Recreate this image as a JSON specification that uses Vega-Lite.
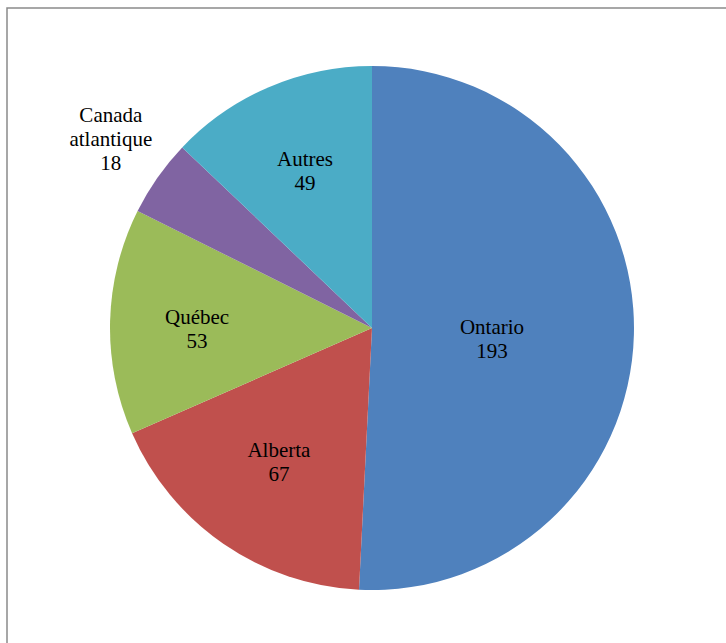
{
  "$schema": "https://vega.github.io/schema/vega-lite/v6.json",
  "width": 730,
  "height": 640,
  "autosize": {"type": "none"},
  "padding": {"left": 7, "top": 8, "right": -11, "bottom": -5},
  "background": "white",
  "view": {"stroke": "#8a8a8a", "strokeWidth": 1.5, "fill": "white"},
  "data": {
    "values": [
      {"region": "Ontario", "value": 193, "rank": 1},
      {"region": "Alberta", "value": 67, "rank": 2},
      {"region": "Québec", "value": 53, "rank": 3},
      {"region": "Canada atlantique", "value": 18, "rank": 4},
      {"region": "Autres", "value": 49, "rank": 5}
    ]
  },
  "transform": [
    {"calculate": "replace(datum.region, ' ', '\\n') + '\\n' + datum.value", "as": "label"}
  ],
  "encoding": {
    "theta": {"field": "value", "type": "quantitative", "stack": true},
    "order": {"field": "rank", "type": "quantitative"}
  },
  "layer": [
    {
      "mark": {"type": "arc", "outerRadius": 262},
      "encoding": {
        "color": {
          "field": "region",
          "type": "nominal",
          "scale": {
            "domain": ["Ontario", "Alberta", "Québec", "Canada atlantique", "Autres"],
            "range": ["#4F81BD", "#C0504D", "#9BBB59", "#8064A2", "#4BACC6"]
          },
          "legend": null
        }
      }
    },
    {
      "mark": {"type": "text", "radius": 120, "dy": -3, "font": "Liberation Serif, Times, DejaVu Serif, serif", "fontSize": 21, "lineHeight": 24, "lineBreak": "\n", "align": "center", "baseline": "middle", "color": "black"},
      "encoding": {
        "text": {"condition": {"test": "datum.region !== 'Ontario'", "value": ""}, "field": "label", "type": "nominal"}
      }
    },
    {
      "mark": {"type": "text", "radius": 164, "dy": -12, "font": "Liberation Serif, Times, DejaVu Serif, serif", "fontSize": 21, "lineHeight": 24, "lineBreak": "\n", "align": "center", "baseline": "middle", "color": "black"},
      "encoding": {
        "text": {"condition": {"test": "datum.region !== 'Alberta'", "value": ""}, "field": "label", "type": "nominal"}
      }
    },
    {
      "mark": {"type": "text", "radius": 175, "dy": -6, "font": "Liberation Serif, Times, DejaVu Serif, serif", "fontSize": 21, "lineHeight": 24, "lineBreak": "\n", "align": "center", "baseline": "middle", "color": "black"},
      "encoding": {
        "text": {"condition": {"test": "datum.region !== 'Québec'", "value": ""}, "field": "label", "type": "nominal"}
      }
    },
    {
      "mark": {"type": "text", "radius": 170, "dy": -12, "font": "Liberation Serif, Times, DejaVu Serif, serif", "fontSize": 21, "lineHeight": 24, "lineBreak": "\n", "align": "center", "baseline": "middle", "color": "black"},
      "encoding": {
        "text": {"condition": {"test": "datum.region !== 'Autres'", "value": ""}, "field": "label", "type": "nominal"}
      }
    },
    {
      "mark": {"type": "text", "radius": 319, "dy": -29, "font": "Liberation Serif, Times, DejaVu Serif, serif", "fontSize": 21, "lineHeight": 24, "lineBreak": "\n", "align": "center", "baseline": "middle", "color": "black"},
      "encoding": {
        "text": {"condition": {"test": "datum.region !== 'Canada atlantique'", "value": ""}, "field": "label", "type": "nominal"}
      }
    }
  ]
}
